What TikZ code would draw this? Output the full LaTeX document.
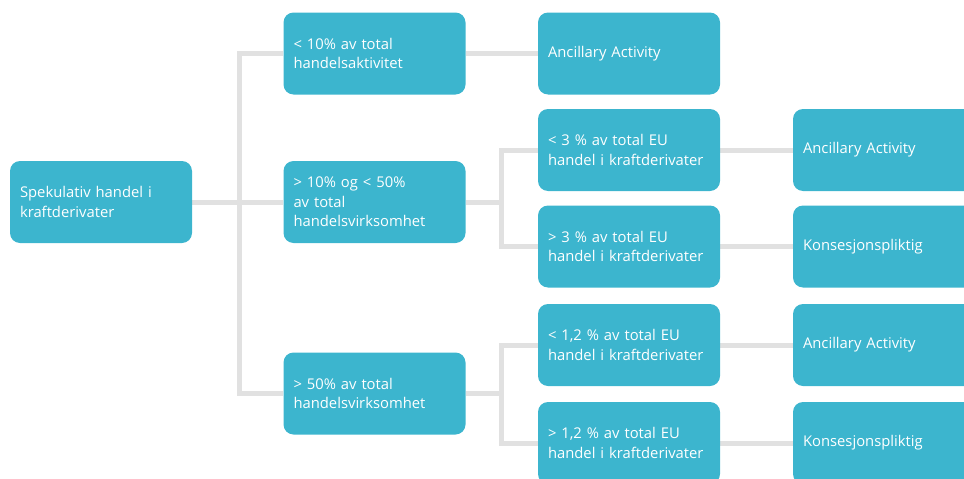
\documentclass[tikz,border=0pt]{standalone}
\usepackage{fontspec}
\setmainfont{Open Sans}
\usetikzlibrary{backgrounds}
\definecolor{boxblue}{RGB}{60,181,206}
\definecolor{linegray}{RGB}{225,225,225}
\begin{document}
\begin{tikzpicture}[x=1pt,y=-1pt,
  box/.style={rectangle, rounded corners=10pt, fill=boxblue, text=white,
    minimum height=82pt, text width=162pt, inner xsep=10pt, inner ysep=0pt,
    align=left, font=\fontsize{14.8}{19.5}\selectfont},
  conn/.style={draw=linegray, line width=5pt}]
\useasboundingbox (0,0) rectangle (964,479);
\clip (0,0) rectangle (964,479);
\node[box] (root) at (101,202) {Spekulativ handel i\\kraftderivater};
\node[box] (a1) at (374.5,53.5) {< 10\% av total\\handelsaktivitet};
\node[box] (a2) at (374.5,202) {> 10\% og < 50\%\\av total\\handelsvirksomhet};
\node[box] (a3) at (374.5,393.5) {> 50\% av total\\handelsvirksomhet};
\node[box] (b0) at (629,53.5) {Ancillary Activity};
\node[box] (b1) at (629,150) {< 3 \% av total EU\\handel i kraftderivater};
\node[box] (b2) at (629,246.5) {> 3 \% av total EU\\handel i kraftderivater};
\node[box] (b3) at (629,345) {< 1,2 \% av total EU\\handel i kraftderivater};
\node[box] (b4) at (629,443) {> 1,2 \% av total EU\\handel i kraftderivater};
\node[box] (c1) at (884,150) {Ancillary Activity};
\node[box] (c2) at (884,246.5) {Konsesjonspliktig};
\node[box] (c3) at (884,345) {Ancillary Activity};
\node[box] (c4) at (884,443) {Konsesjonspliktig};
\coordinate (j1) at (239,202);
\coordinate (j2) at (501,202);
\coordinate (j3) at (501,393.5);
\begin{scope}[on background layer]
\draw[conn] (root.east) -- (a2.west);
\draw[conn] (a1.west) -| (j1) |- (a3.west);
\draw[conn] (a1.east) -- (b0.west);
\draw[conn] (a2.east) -- (j2);
\draw[conn] (b1.west) -| (j2) |- (b2.west);
\draw[conn] (a3.east) -- (j3);
\draw[conn] (b3.west) -| (j3) |- (b4.west);
\draw[conn] (b1.east) -- (c1.west);
\draw[conn] (b2.east) -- (c2.west);
\draw[conn] (b3.east) -- (c3.west);
\draw[conn] (b4.east) -- (c4.west);
\end{scope}
\end{tikzpicture}
\end{document}
